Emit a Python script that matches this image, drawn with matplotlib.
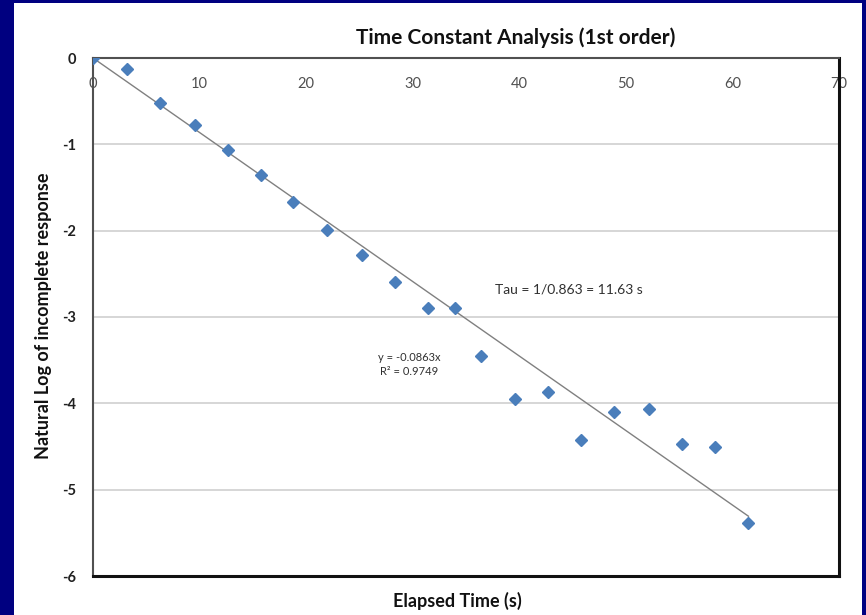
import matplotlib.pyplot as plt
from matplotlib.patches import Rectangle
import numpy as np

# elapsed time (s) and ln of incomplete response
t = [0, 3.2, 6.3, 9.6, 12.7, 15.8, 18.8, 22.0, 25.2, 28.3, 31.4, 34.0,
     36.4, 39.6, 42.7, 45.8, 48.9, 52.2, 55.3, 58.4, 61.5]
ln_resp = [0, -0.13, -0.52, -0.78, -1.06, -1.35, -1.67, -1.99, -2.28, -2.59, -2.90, -2.90,
           -3.45, -3.95, -3.87, -4.43, -4.10, -4.07, -4.47, -4.51, -5.39]
slope = -0.0863
r2 = 0.9749

xticks = [0, 10, 20, 30, 40, 50, 60, 70]
yticks = [0, -1, -2, -3, -4, -5, -6]

plt.rcParams['font.family'] = ['Lato', 'DejaVu Sans']
plt.rcParams['axes.unicode_minus'] = False

fig = plt.figure(figsize=(8.66, 6.15), dpi=100)
fig.patch.set_facecolor('#000080')
fig.patches.append(Rectangle((14/866, 0), (862-14)/866, (612)/615,
                             transform=fig.transFigure, facecolor='white',
                             edgecolor='none', zorder=-10))

ax = fig.add_axes([93/866, 39/615, (839-93)/866, (576-58)/615])
ax.set_zorder(1)
ax.set_xlim(0, 70)
ax.set_ylim(-6, 0)

for yy in yticks[1:-1]:
    ax.axhline(yy, color='#d0d0d0', lw=1.2, zorder=1)

xfit = np.array([0, max(t)])
ax.plot(xfit, slope*xfit, color='#808080', lw=1, zorder=2)
ax.plot(t, ln_resp, 'D', color='#4a7ebb', markersize=6.5, zorder=3)

ax.spines['top'].set_color('#505050')
ax.spines['left'].set_color('#505050')
ax.spines['top'].set_linewidth(1.5)
ax.spines['left'].set_linewidth(1.5)
ax.spines['right'].set_color('#111111')
ax.spines['bottom'].set_color('#111111')
ax.spines['right'].set_linewidth(2.2)
ax.spines['bottom'].set_linewidth(2.2)

ax.set_xticks(xticks)
ax.set_yticks(yticks)
ax.xaxis.tick_top()
ax.tick_params(axis='x', length=0, pad=-24, labelsize=10.5, labelcolor='#505050')
ax.tick_params(axis='y', length=0, pad=12, labelsize=10.5, labelcolor='#202020')
for lab in ax.get_yticklabels():
    lab.set_fontweight('bold')

ax.text(37.7, -2.68, 'Tau = 1/0.863 = 11.63 s', fontsize=10, color='#303030',
        ha='left', va='center')
ax.text(29.7, -3.55, 'y = -0.0863x\nR² = 0.9749', fontsize=8, color='#303030',
        ha='center', va='center', linespacing=1.3)

fig.text(516/866, 1 - 38/615, 'Time Constant Analysis (1st order)', fontsize=15,
         fontweight='bold', ha='center', va='center', color='#111111')
fig.text(457/866, 1 - 601/615, 'Elapsed Time (s)', fontsize=13,
         fontweight='bold', ha='center', va='center', color='#111111')
fig.text(44/866, 1 - 316/615, 'Natural Log of incomplete response', fontsize=13,
         fontweight='bold', ha='center', va='center', rotation=90, color='#111111')

fig.savefig('out.png', dpi=100, facecolor=fig.get_facecolor())
